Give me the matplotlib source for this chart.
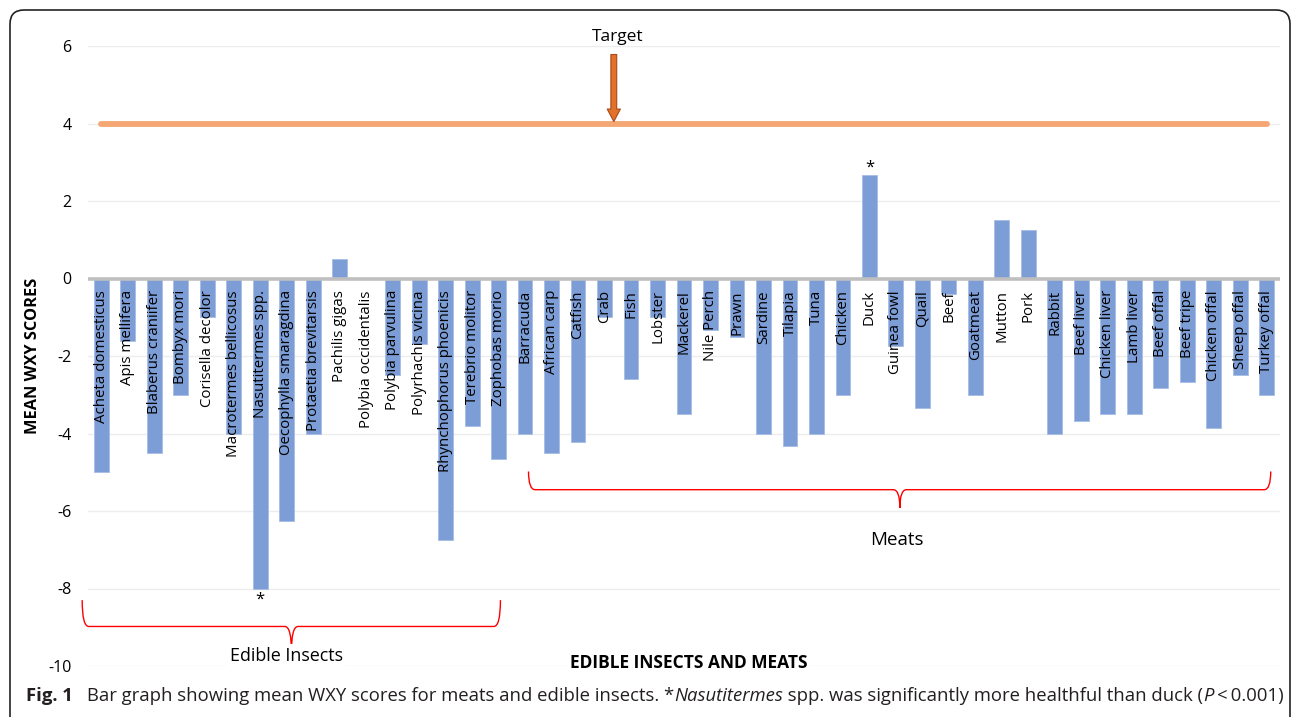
import matplotlib
matplotlib.use("Agg")
import matplotlib.pyplot as plt
from matplotlib.path import Path
from matplotlib.patches import PathPatch, FancyBboxPatch
from matplotlib.transforms import IdentityTransform

insects = ["Acheta domesticus", "Apis mellifera", "Blaberus craniifer", "Bombyx mori",
           "Corisella decolor", "Macrotermes bellicosus", "Nasutitermes spp.",
           "Oecophylla smaragdina", "Protaetia brevitarsis", "Pachilis gigas",
           "Polybia occidentalis", "Polybia parvulina", "Polyrhachis vicina",
           "Rhynchophorus phoenicis", "Terebrio molitor", "Zophobas morio"]
insect_scores = [-5.0, -1.6, -4.5, -3.0, -1.0, -4.0, -8.0, -6.25, -4.0, 0.5,
                 0.0, -2.5, -1.7, -6.75, -3.8, -4.67]
meats = ["Barracuda", "African carp", "Catfish", "Crab", "Fish", "Lobster", "Mackerel",
         "Nile Perch", "Prawn", "Sardine", "Tilapia", "Tuna", "Chicken", "Duck",
         "Guinea fowl", "Quail", "Beef", "Goatmeat", "Mutton", "Pork", "Rabbit",
         "Beef liver", "Chicken liver", "Lamb liver", "Beef offal", "Beef tripe",
         "Chicken offal", "Sheep offal", "Turkey offal"]
meat_scores = [-4.0, -4.5, -4.22, -1.0, -2.6, -1.0, -3.5, -1.33, -1.5, -4.0, -4.33,
               -4.0, -3.0, 2.67, -1.75, -3.33, -0.4, -3.0, 1.5, 1.25, -4.0, -3.67,
               -3.5, -3.5, -2.83, -2.67, -3.86, -2.5, -3.0]
target = 4
yticks = [6, 4, 2, 0, -2, -4, -6, -8, -10]

labels = insects + meats
scores = insect_scores + meat_scores
n = len(labels)
x = list(range(n))

FONT = "Open Sans"
W, H = 1292, 717
fig = plt.figure(figsize=(W / 100, H / 100), dpi=100)
ax = fig.add_axes([88 / W, 1 - 666 / H, (1280 - 88) / W, (666 - 46) / H])
ax.set_xlim(-0.5, n - 0.5)
ax.set_ylim(-10, 6)

for yv in yticks:
    if yv != 0:
        ax.axhline(yv, color="#EDEDED", lw=1.0, zorder=0)
ax.bar(x, scores, width=0.56, color="#7C9DD6", edgecolor="#A7BDE6", linewidth=0.6, zorder=2)
ax.axhline(0, color="#BFBFBF", lw=2.6, zorder=3)

# target line
ax.plot([0, n - 1], [target, target], color="#F4A773", lw=4.2, solid_capstyle="round", zorder=3)

for xi, lab in zip(x, labels):
    ax.text(xi, -0.3, lab, rotation=90, ha="center", va="top", fontsize=10.8,
            family=FONT, color="black", zorder=4)

ax.set_yticks(yticks)
ax.set_yticklabels([str(v) for v in yticks], family=FONT, fontsize=11.5)
ax.tick_params(axis="y", length=0, pad=12)
ax.set_xticks([])
for s in ax.spines.values():
    s.set_visible(False)

# arrow to target
ax.annotate("", xy=(19.35, target + 0.05), xytext=(19.35, 5.78),
            arrowprops=dict(arrowstyle="simple,head_width=0.95,head_length=0.9,tail_width=0.42",
                            fc="#E2712A", ec="#A84A1A", lw=0.8, mutation_scale=10, shrinkA=0, shrinkB=0),
            zorder=5)
ax.text(19.5, 6.22, "Target", ha="center", va="center", fontsize=12.5, family=FONT, clip_on=False)


def brace(x0, x1, xc, ytop, ymid, ytip, **kw):
    dx = 0.25
    verts = [(x0, ytop), (x0, ymid), (x0 + dx, ymid),
             (xc - dx, ymid), (xc, ymid), (xc, ytip),
             (xc, ymid), (xc + dx, ymid),
             (x1 - dx, ymid), (x1, ymid), (x1, ytop)]
    codes = [Path.MOVETO, Path.CURVE3, Path.CURVE3,
             Path.LINETO, Path.CURVE3, Path.CURVE3,
             Path.CURVE3, Path.CURVE3,
             Path.LINETO, Path.CURVE3, Path.CURVE3]
    p = PathPatch(Path(verts, codes), fill=False, clip_on=False, **kw)
    ax.add_patch(p)


brace(-0.72, 15.07, 7.18, -8.3, -8.98, -9.63, ec="#FF0000", lw=1.0)
brace(16.13, 44.15, 30.15, -4.98, -5.45, -5.92, ec="#FF0000", lw=1.0)

ax.text(7.0, -9.73, "Edible Insects", ha="center", va="center", fontsize=12.9, family=FONT,
        bbox=dict(fc="white", ec="none", pad=2), zorder=6)
ax.text(30.05, -6.74, "Meats", ha="center", va="center", fontsize=13.5, family=FONT, zorder=6)
ax.text(6.0, -8.3, "*", ha="center", va="center", fontsize=12, family=FONT, zorder=6)
ax.text(29.0, 2.85, "*", ha="center", va="center", fontsize=12, family=FONT, zorder=6)

ax.text(22.2, -9.93, "EDIBLE INSECTS AND MEATS", ha="center", va="center", fontsize=12.5,
        weight="bold", family=FONT, bbox=dict(fc="white", ec="none", pad=1.5), zorder=6)
fig.text(33 / W, 1 - 356 / H, "MEAN WXY SCORES", rotation=90, ha="center", va="center",
         fontsize=11.8, weight="bold", family=FONT)

# border (top at 10 px from the top edge, bottom cut off)
border = FancyBboxPatch((10, -20), 1280, H - 10 + 20, boxstyle="round,pad=0,rounding_size=14",
                        transform=IdentityTransform(), fill=False, ec="#222222", lw=1.2)
fig.patches.append(border)

# caption (sequential pieces)
fig.canvas.draw()
renderer = fig.canvas.get_renderer()
ycap = 1 - 696 / H
pieces = [("Fig. 1", dict(weight="bold"), 26),
          ("Bar graph showing mean WXY scores for meats and edible insects. *", {}, 87),
          ("Nasutitermes", dict(style="italic"), None),
          (" spp. was significantly more healthful than duck (", {}, None),
          ("P", dict(style="italic"), None),
          ("\u2009<\u20090.001)", {}, None)]
xpos = 0
for txt, kw, xstart in pieces:
    if xstart is not None:
        xpos = xstart
    t = fig.text(xpos / W, ycap, txt, ha="left", va="center", fontsize=13.3,
                 family=[FONT, "DejaVu Sans"], color="#231F20", **kw)
    bb = t.get_window_extent(renderer)
    xpos = bb.x1

fig.savefig("out.png", dpi=100)
